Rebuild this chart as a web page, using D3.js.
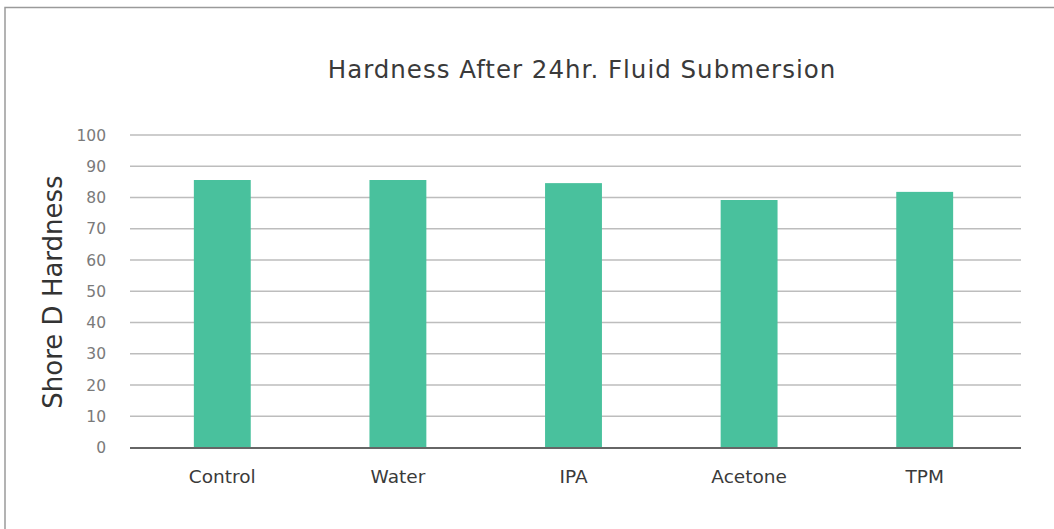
<!DOCTYPE html>
<html>
<head>
<meta charset="utf-8">
<script src="https://cdn.jsdelivr.net/npm/d3@7.9.0/dist/d3.min.js"></script>
<style>
  html, body { margin: 0; padding: 0; background: #fff; }
  svg { display: block; font-family: "DejaVu Sans", sans-serif; }
</style>
</head>
<body>
<svg id="chart" width="1054" height="529"></svg>
<script>
// chart data
const categories = ["Control", "Water", "IPA", "Acetone", "TPM"];
const hardness = [85.6, 85.6, 84.6, 79.2, 81.8];
const yTicks = [0, 10, 20, 30, 40, 50, 60, 70, 80, 90, 100];

const svg = d3.select("#chart");
const W = 1054, H = 529;

// outer frame (only top + left edges visible in the crop)
svg.append("path")
  .attr("d", `M5,${H} L5,7.5 L${W},7.5`)
  .attr("fill", "none")
  .attr("stroke", "#9a9a9a")
  .attr("stroke-width", 1.5);

const plotLeft = 130, plotRight = 1021;

const x = d3.scaleBand().domain(categories).range([134.5, 1012.5]).paddingInner(0.676).paddingOuter(0.338);
const y = d3.scaleLinear().domain([0, 100]).range([447.5, 135]);

// gridlines
svg.append("g")
  .selectAll("line")
  .data(yTicks.filter(d => d > 0))
  .join("line")
  .attr("x1", plotLeft).attr("x2", plotRight)
  .attr("y1", d => y(d)).attr("y2", d => y(d))
  .attr("stroke", "#bdbdbd")
  .attr("stroke-width", 1.3);

// y tick labels
svg.append("g")
  .selectAll("text")
  .data(yTicks)
  .join("text")
  .attr("x", 106)
  .attr("y", d => y(d))
  .attr("dy", "0.36em")
  .attr("text-anchor", "end")
  .attr("fill", "#7a7a7a")
  .attr("font-size", 15.5)
  .text(d => d);

// bars
svg.append("g")
  .selectAll("rect")
  .data(categories)
  .join("rect")
  .attr("x", d => x(d))
  .attr("width", x.bandwidth())
  .attr("y", (d, i) => y(hardness[i]))
  .attr("height", (d, i) => y(0) - y(hardness[i]))
  .attr("fill", "#49c19d");

// baseline
svg.append("line")
  .attr("x1", plotLeft).attr("x2", plotRight)
  .attr("y1", y(0) + 0.5).attr("y2", y(0) + 0.5)
  .attr("stroke", "#666")
  .attr("stroke-width", 2);

// x labels
svg.append("g")
  .selectAll("text")
  .data(categories)
  .join("text")
  .attr("x", d => x(d) + x.bandwidth() / 2)
  .attr("y", 483)
  .attr("text-anchor", "middle")
  .attr("fill", "#3a3a3a")
  .attr("font-size", 18.5)
  .text(d => d);

// title
svg.append("text")
  .attr("x", 582)
  .attr("y", 78)
  .attr("text-anchor", "middle")
  .attr("fill", "#3a3a3a")
  .attr("font-size", 24.5)
  .attr("letter-spacing", 1.0)
  .text("Hardness After 24hr. Fluid Submersion");

// y axis title
svg.append("text")
  .attr("transform", "translate(62,292) rotate(-90)")
  .attr("text-anchor", "middle")
  .attr("fill", "#333")
  .attr("font-size", 26)
  .text("Shore D Hardness");
</script>
</body>
</html>
